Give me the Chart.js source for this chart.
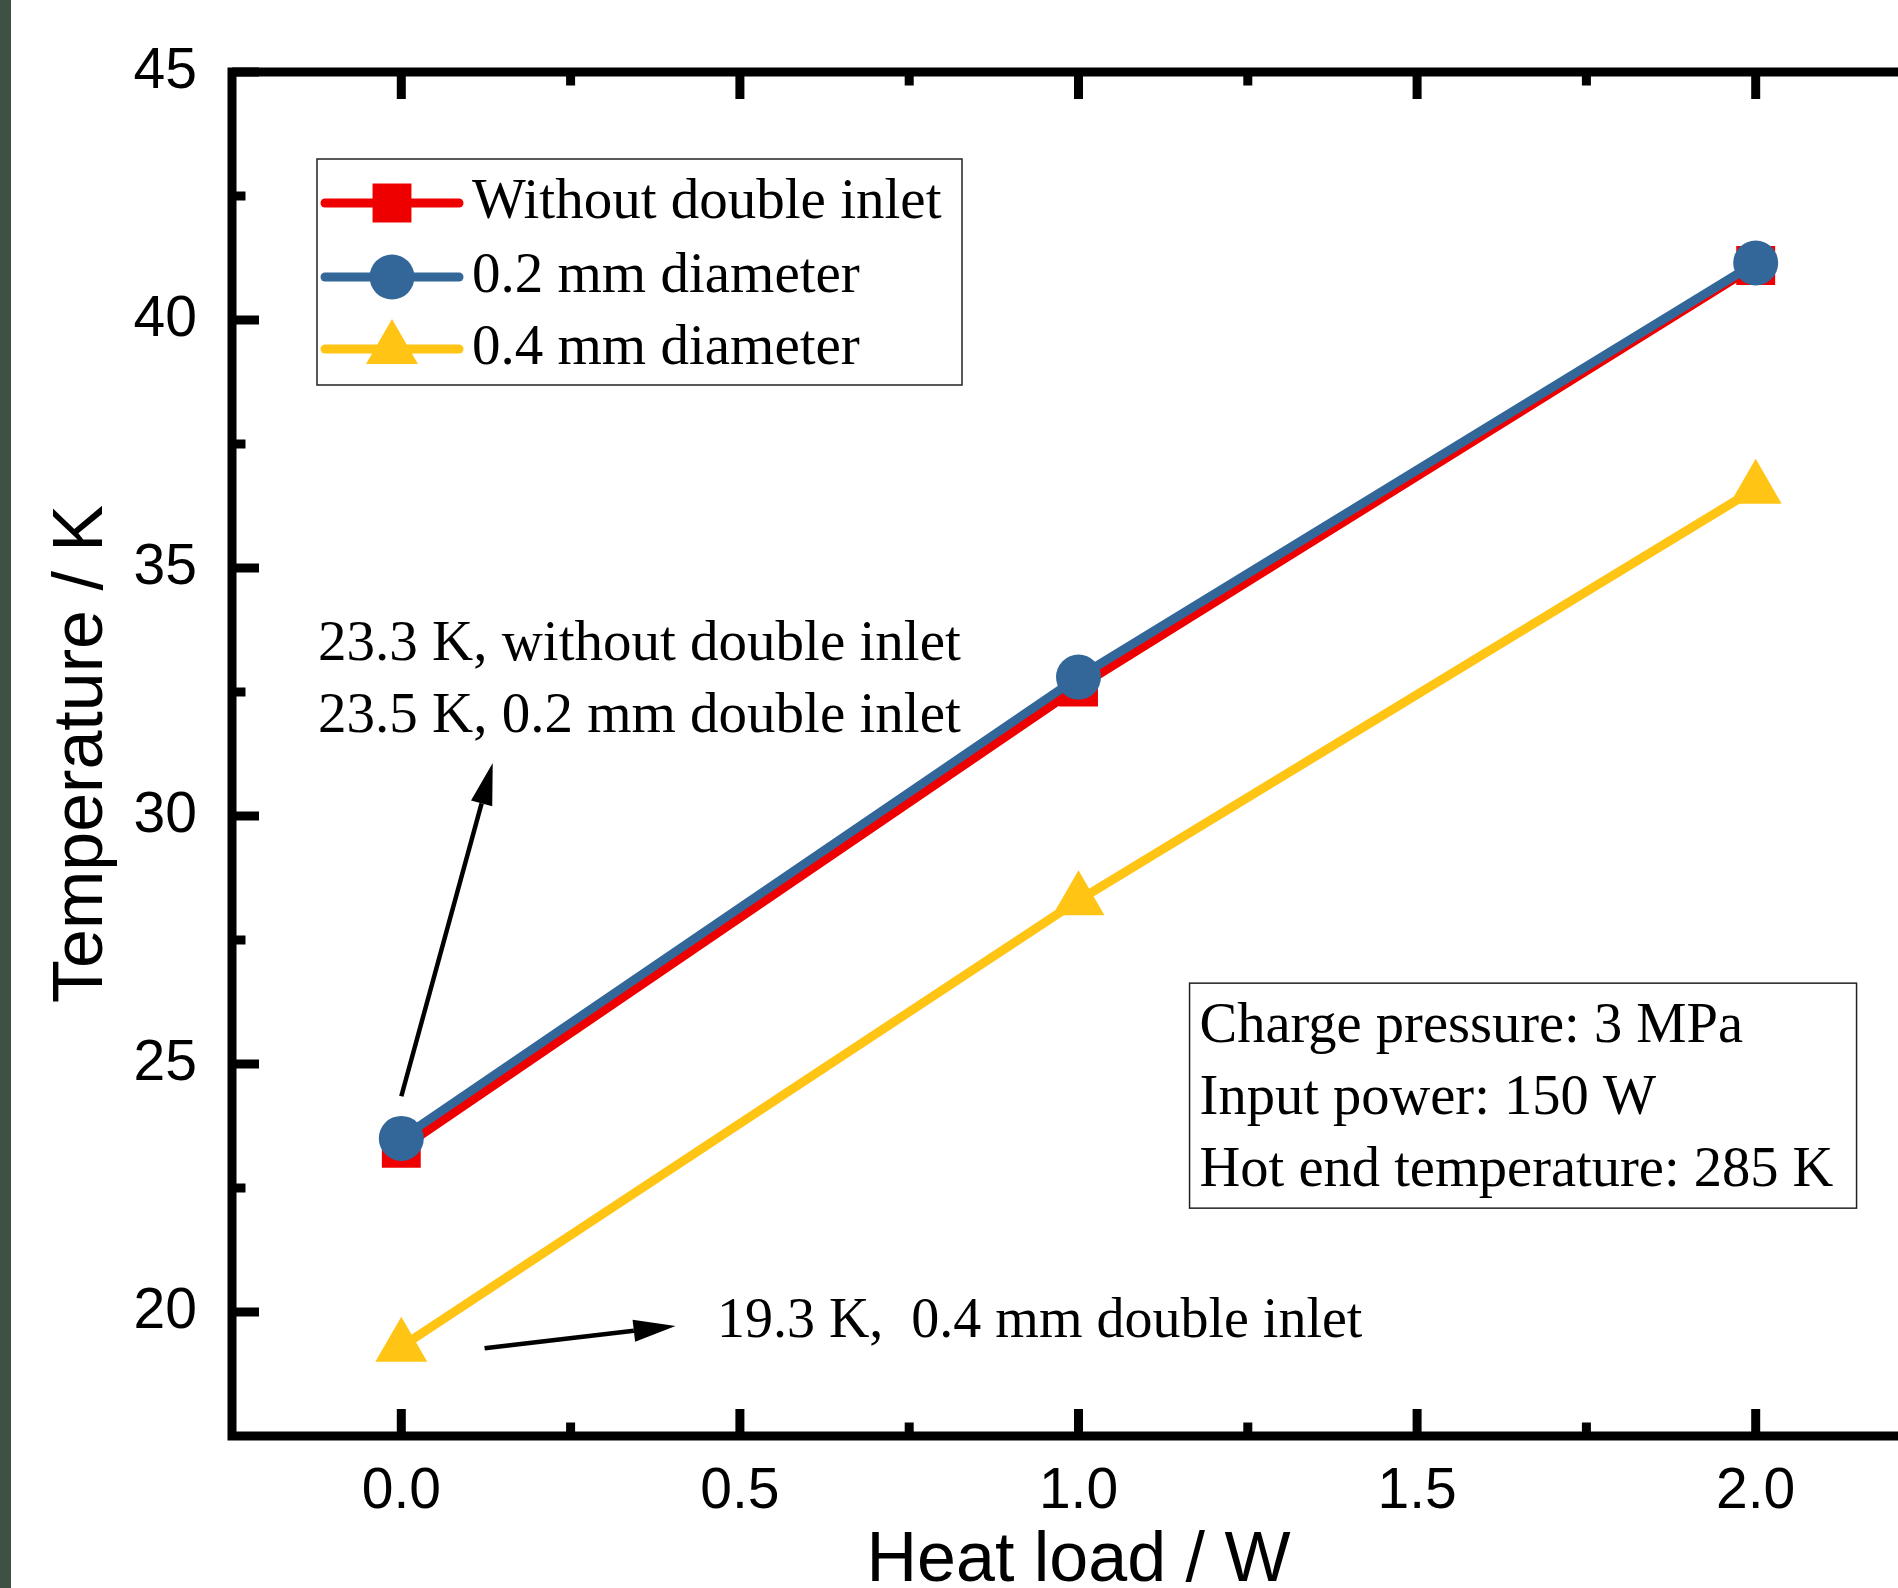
<!DOCTYPE html>
<html>
<head>
<meta charset="utf-8">
<script src="https://cdn.jsdelivr.net/npm/chart.js@4.4.1/dist/chart.umd.min.js"></script>
<style>
html, body { margin: 0; padding: 0; background: #fff; overflow: hidden; width: 1898px; height: 1588px; }
canvas { position: absolute; left: 0; top: 0; }
#strip { position: absolute; left: 0; top: 0; width: 11px; height: 1588px; background: #3e5244; }
</style>
</head>
<body>
<canvas id="tempChart" width="1960" height="1620"></canvas>
<div id="strip"></div>
<script>
// values
const heatLoads = [0, 1, 2];
const withoutInlet = [23.3, 32.6, 41.1];
const inlet02 = [23.5, 32.8, 41.15];
const inlet04 = [19.3, 28.3, 36.6];
const seriesNames = ['Without double inlet', '0.2 mm diameter', '0.4 mm diameter'];
const xTicks = [0, 0.5, 1, 1.5, 2];
const yTicks = [20, 25, 30, 35, 40, 45];
const infoLines = ['Charge pressure: 3 MPa', 'Input power: 150 W', 'Hot end temperature: 285 K'];
const noteLines = ['23.3 K, without double inlet', '23.5 K, 0.2 mm double inlet'];
const note04 = '19.3 K,  0.4 mm double inlet';

const sansFont = '"Liberation Sans", Arial, sans-serif';
const serifFont = '"Liberation Serif", "Times New Roman", serif';

function pts(ys) {
    return heatLoads.map((x, i) => ({x: x, y: ys[i]}));
}

function minorsOf(major, min, max) {
    const step = major[1] - major[0];
    let out = [];
    for (let v = major[0] - step / 2; v < max; v += step) {
        if (v > min + 1e-9) out.push(v);
    }
    return out;
}

function arrow(ctx, x1, y1, x2, y2) {
    const ang = Math.atan2(y2 - y1, x2 - x1);
    const len = 42, half = 11;
    const bx = x2 - Math.cos(ang) * len, by = y2 - Math.sin(ang) * len;
    ctx.lineWidth = 4.5;
    ctx.beginPath();
    ctx.moveTo(x1, y1);
    ctx.lineTo(bx, by);
    ctx.stroke();
    ctx.beginPath();
    ctx.moveTo(x2, y2);
    ctx.lineTo(bx + Math.sin(ang) * half, by - Math.cos(ang) * half);
    ctx.lineTo(bx - Math.sin(ang) * half, by + Math.cos(ang) * half);
    ctx.closePath();
    ctx.fill();
}

const frameTicks = {
    id: 'frameTicks',
    afterDraw(chart) {
        const ctx = chart.ctx;
        const a = chart.chartArea;
        const x = chart.scales.x, y = chart.scales.y;
        ctx.save();
        ctx.strokeStyle = '#000';
        ctx.lineWidth = 9;
        ctx.lineCap = 'butt';
        ctx.beginPath();
        const xs = [[xTicks, 27], [minorsOf(xTicks, x.min, x.max), 13.5]];
        xs.forEach(([vals, len]) => vals.forEach(v => {
            const px = x.getPixelForValue(v);
            ctx.moveTo(px, a.bottom); ctx.lineTo(px, a.bottom - len);
            ctx.moveTo(px, a.top); ctx.lineTo(px, a.top + len);
        }));
        const ys = [[yTicks, 27], [minorsOf(yTicks, y.min, y.max), 13.5]];
        ys.forEach(([vals, len]) => vals.forEach(v => {
            const py = y.getPixelForValue(v);
            ctx.moveTo(a.left, py); ctx.lineTo(a.left + len, py);
            ctx.moveTo(a.right, py); ctx.lineTo(a.right - len, py);
        }));
        ctx.stroke();
        ctx.lineJoin = 'miter';
        ctx.strokeRect(a.left, a.top, a.right - a.left, a.bottom - a.top);
        ctx.restore();
    }
};

const legendBox = {
    id: 'legendBox',
    afterDraw(chart) {
        const ctx = chart.ctx;
        const a = chart.chartArea;
        const bx = a.left + 85, by = a.top + 87;
        const rows = [44, 118, 190];
        ctx.save();
        ctx.lineWidth = 1.5;
        ctx.strokeStyle = '#222';
        ctx.strokeRect(bx, by, 645, 226);
        ctx.font = '57px ' + serifFont;
        ctx.textBaseline = 'middle';
        ctx.textAlign = 'left';
        chart.data.datasets.forEach((ds, i) => {
            const ry = by + rows[i];
            ctx.strokeStyle = ds.borderColor;
            ctx.lineWidth = 9;
            ctx.lineCap = 'round';
            ctx.beginPath();
            ctx.moveTo(bx + 8, ry);
            ctx.lineTo(bx + 142, ry);
            ctx.stroke();
            ctx.fillStyle = ds.backgroundColor;
            Chart.helpers.drawPoint(ctx, {pointStyle: ds.pointStyle, radius: ds.pointRadius, borderWidth: 0, rotation: 0}, bx + 75, ry);
            ctx.fillStyle = '#000';
            ctx.fillText(ds.label, bx + 155, ry);
        });
        ctx.restore();
    }
};

const notes = {
    id: 'notes',
    afterDraw(chart) {
        const ctx = chart.ctx;
        const x = chart.scales.x, y = chart.scales.y;
        ctx.save();
        ctx.fillStyle = '#000';
        ctx.strokeStyle = '#000';
        ctx.font = '57px ' + serifFont;
        ctx.textBaseline = 'alphabetic';
        ctx.textAlign = 'left';

        // 23.3 / 23.5 K note
        const n1x = x.getPixelForValue(-0.123), n1y = y.getPixelForValue(33.15);
        noteLines.forEach((t, i) => ctx.fillText(t, n1x, n1y + i * 72));
        arrow(ctx, x.getPixelForValue(0), y.getPixelForValue(24.35),
                   x.getPixelForValue(0.135), y.getPixelForValue(31.07));

        // 19.3 K note
        ctx.font = '56px ' + serifFont;
        ctx.fillText(note04, x.getPixelForValue(0.466), y.getPixelForValue(19.5));
        arrow(ctx, x.getPixelForValue(0.123), y.getPixelForValue(19.27),
                   x.getPixelForValue(0.405), y.getPixelForValue(19.72));

        // operating conditions box
        const ix = x.getPixelForValue(1.164), iy = y.getPixelForValue(26.63);
        ctx.lineWidth = 1.5;
        ctx.strokeStyle = '#222';
        ctx.strokeRect(ix, iy, 667, 225);
        ctx.font = '56.5px ' + serifFont;
        infoLines.forEach((t, i) => ctx.fillText(t, ix + 10, iy + 59 + i * 72));
        ctx.restore();
    }
};

const data = {
    datasets: [{
        label: seriesNames[0],
        data: pts(withoutInlet),
        borderColor: '#ee0000',
        backgroundColor: '#ee0000',
        pointStyle: 'rect',
        pointRadius: 27.5,
        order: 3
    }, {
        label: seriesNames[1],
        data: pts(inlet02),
        borderColor: '#346799',
        backgroundColor: '#346799',
        pointStyle: 'circle',
        pointRadius: 22.5,
        order: 1
    }, {
        label: seriesNames[2],
        data: pts(inlet04),
        borderColor: '#ffc414',
        backgroundColor: '#ffc414',
        pointStyle: 'triangle',
        pointRadius: 30,
        order: 2
    }]
};

const config = {
    type: 'line',
    data,
    options: {
        responsive: false,
        animation: false,
        devicePixelRatio: 1,
        layout: { padding: { top: 72, right: 35, left: 0, bottom: 0 } },
        elements: {
            line: { borderWidth: 9, tension: 0, fill: false, borderJoinStyle: 'round' },
            point: { borderWidth: 0, hoverRadius: 0 }
        },
        plugins: {
            legend: { display: false },
            tooltip: { enabled: false }
        },
        scales: {
            x: {
                type: 'linear',
                min: -0.25,
                max: 2.25,
                afterBuildTicks: s => { s.ticks = xTicks.map(v => ({value: v})); },
                afterFit: s => { s.height = 184; },
                grid: { display: false, drawTicks: false },
                border: { display: false },
                ticks: {
                    font: { family: sansFont, size: 57 },
                    color: '#000',
                    padding: 22,
                    maxRotation: 0,
                    autoSkip: false,
                    callback: v => Number(v).toFixed(1)
                },
                title: {
                    display: true,
                    text: 'Heat load / W',
                    color: '#000',
                    font: { family: sansFont, size: 70 },
                    padding: { top: 0, bottom: 16 }
                }
            },
            y: {
                min: 17.5,
                max: 45,
                afterBuildTicks: s => { s.ticks = yTicks.map(v => ({value: v})); },
                afterFit: s => { s.width = 232; },
                grid: { display: false, drawTicks: false },
                border: { display: false },
                ticks: {
                    font: { family: sansFont, size: 57 },
                    color: '#000',
                    padding: 35,
                    callback: v => String(v)
                },
                title: {
                    display: true,
                    text: 'Temperature / K',
                    color: '#000',
                    font: { family: sansFont, size: 70 },
                    padding: { top: 41, bottom: 0 }
                }
            }
        }
    },
    plugins: [frameTicks, legendBox, notes]
};

const myChart = new Chart(document.getElementById('tempChart'), config);
</script>
</body>
</html>
